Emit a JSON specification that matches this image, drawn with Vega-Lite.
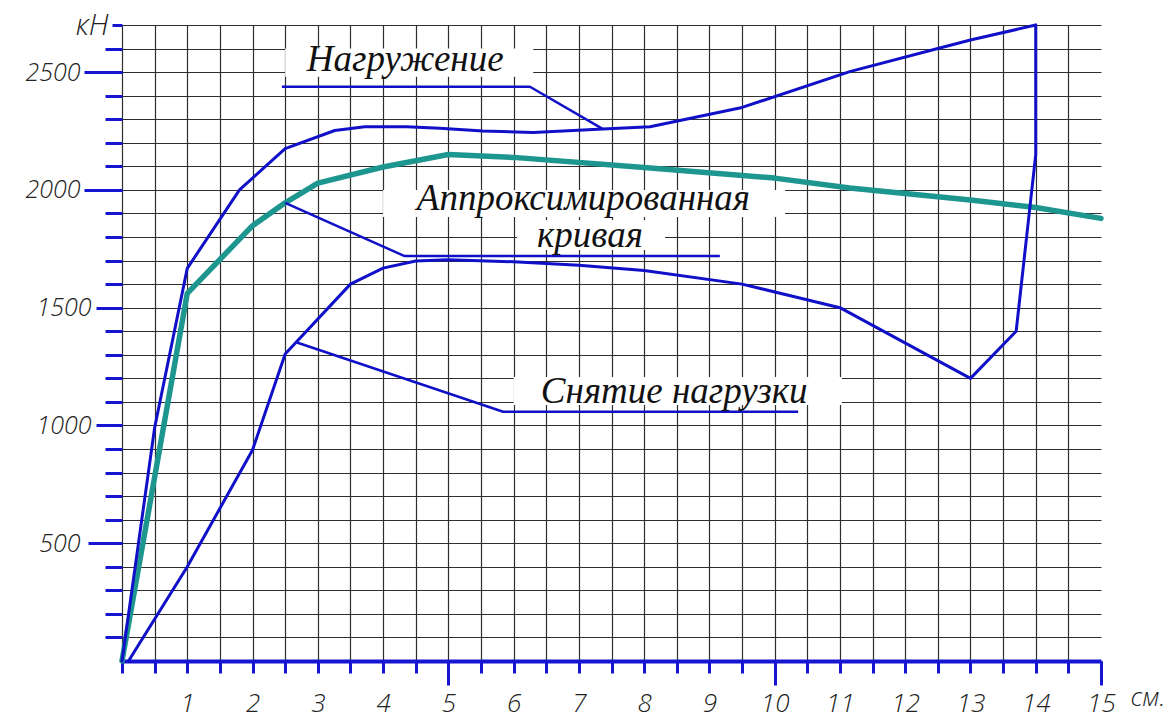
{
  "$schema": "https://vega.github.io/schema/vega-lite/v6.json",
  "width": 979,
  "height": 636,
  "autosize": {"type": "none"},
  "padding": {"left": 122, "top": 25, "right": 71, "bottom": 52},
  "background": "white",
  "config": {
    "view": {"stroke": null},
    "axis": {
      "labelFont": "Open Sans", "labelFontStyle": "italic", "labelFontWeight": 300,
      "labelFontSize": 25, "labelColor": "#222222",
      "labelOverlap": false, "labelFlush": false, "labelBound": false,
      "tickColor": "#1515d2", "tickWidth": 3, "title": null
    }
  },
  "datasets": {
    "boxes": [
      {"x": 2.5, "x2": 6.3, "y": 2480, "y2": 2600},
      {"x": 4.0, "x2": 10.16, "y": 1885, "y2": 2000},
      {"x": 6.05, "x2": 8.32, "y": 1745, "y2": 1872},
      {"x": 6.0, "x2": 11.03, "y": 1087, "y2": 1206}
    ],
    "approx": [
      {"i": 0, "x": 0, "y": 0},
      {"i": 1, "x": 1, "y": 1561},
      {"i": 2, "x": 2, "y": 1848},
      {"i": 3, "x": 2.5, "y": 1945},
      {"i": 4, "x": 3, "y": 2029},
      {"i": 5, "x": 4, "y": 2097},
      {"i": 6, "x": 5, "y": 2150},
      {"i": 7, "x": 6, "y": 2138},
      {"i": 8, "x": 8, "y": 2095},
      {"i": 9, "x": 10, "y": 2050},
      {"i": 10, "x": 11.15, "y": 2008},
      {"i": 11, "x": 13, "y": 1957},
      {"i": 12, "x": 14, "y": 1925},
      {"i": 13, "x": 15, "y": 1879}
    ],
    "curves": [
      {"series": "Нагружение", "i": 0, "x": 0, "y": 0},
      {"series": "Нагружение", "i": 1, "x": 0.5, "y": 990},
      {"series": "Нагружение", "i": 2, "x": 1, "y": 1667},
      {"series": "Нагружение", "i": 3, "x": 1.8, "y": 2000},
      {"series": "Нагружение", "i": 4, "x": 2.5, "y": 2175},
      {"series": "Нагружение", "i": 5, "x": 3.26, "y": 2252},
      {"series": "Нагружение", "i": 6, "x": 3.72, "y": 2268},
      {"series": "Нагружение", "i": 7, "x": 4.36, "y": 2268},
      {"series": "Нагружение", "i": 8, "x": 4.87, "y": 2262},
      {"series": "Нагружение", "i": 9, "x": 5.53, "y": 2250},
      {"series": "Нагружение", "i": 10, "x": 6.3, "y": 2244},
      {"series": "Нагружение", "i": 11, "x": 7.37, "y": 2258},
      {"series": "Нагружение", "i": 12, "x": 8.09, "y": 2268},
      {"series": "Нагружение", "i": 13, "x": 9.5, "y": 2350},
      {"series": "Нагружение", "i": 14, "x": 11.15, "y": 2502},
      {"series": "Нагружение", "i": 15, "x": 12.5, "y": 2600},
      {"series": "Нагружение", "i": 16, "x": 13, "y": 2636},
      {"series": "Нагружение", "i": 17, "x": 14, "y": 2700},
      {"series": "Снятие нагрузки", "i": 0, "x": 14, "y": 2700},
      {"series": "Снятие нагрузки", "i": 1, "x": 14, "y": 2150},
      {"series": "Снятие нагрузки", "i": 2, "x": 13.7, "y": 1400},
      {"series": "Снятие нагрузки", "i": 3, "x": 13, "y": 1200},
      {"series": "Снятие нагрузки", "i": 4, "x": 11, "y": 1500},
      {"series": "Снятие нагрузки", "i": 5, "x": 9.5, "y": 1600},
      {"series": "Снятие нагрузки", "i": 6, "x": 8, "y": 1658},
      {"series": "Снятие нагрузки", "i": 7, "x": 7, "y": 1680},
      {"series": "Снятие нагрузки", "i": 8, "x": 6, "y": 1695},
      {"series": "Снятие нагрузки", "i": 9, "x": 5, "y": 1703},
      {"series": "Снятие нагрузки", "i": 10, "x": 4.5, "y": 1698},
      {"series": "Снятие нагрузки", "i": 11, "x": 4, "y": 1668},
      {"series": "Снятие нагрузки", "i": 12, "x": 3.5, "y": 1600},
      {"series": "Снятие нагрузки", "i": 13, "x": 2.5, "y": 1303},
      {"series": "Снятие нагрузки", "i": 14, "x": 2, "y": 896},
      {"series": "Снятие нагрузки", "i": 15, "x": 1, "y": 400},
      {"series": "Снятие нагрузки", "i": 16, "x": 0.1, "y": 0}
    ],
    "leaders": [
      {"series": "l1", "i": 0, "x": 2.45, "y": 2438},
      {"series": "l1", "i": 1, "x": 6.25, "y": 2438},
      {"series": "l1", "i": 2, "x": 7.37, "y": 2258},
      {"series": "l2", "i": 0, "x": 2.5, "y": 1945},
      {"series": "l2", "i": 1, "x": 4.33, "y": 1719},
      {"series": "l2", "i": 2, "x": 9.16, "y": 1719},
      {"series": "l3", "i": 0, "x": 2.68, "y": 1352},
      {"series": "l3", "i": 1, "x": 5.84, "y": 1058},
      {"series": "l3", "i": 2, "x": 10.36, "y": 1058}
    ],
    "labels": [
      {"x": 4.34, "y": 2503, "text": "Нагружение"},
      {"x": 7.07, "y": 1915, "text": "Аппроксимированная"},
      {"x": 7.17, "y": 1757, "text": "кривая"},
      {"x": 8.46, "y": 1095, "text": "Снятие нагрузки"}
    ],
    "units": [
      {"x": 15.72, "y": -190, "text": "см."}
    ]
  },
  "resolve": {"axis": {"x": "independent", "y": "independent"}},
  "layer": [
    {
      "data": {"name": "boxes"},
      "mark": {"type": "rect", "fill": "white", "stroke": null},
      "encoding": {
        "x": {
          "field": "x", "type": "quantitative",
          "scale": {"domain": [0, 15], "nice": false, "zero": false},
          "axis": {
            "orient": "bottom",
            "values": [0, 0.5, 1, 1.5, 2, 2.5, 3, 3.5, 4, 4.5, 5, 5.5, 6, 6.5, 7, 7.5, 8, 8.5, 9, 9.5, 10, 10.5, 11, 11.5, 12, 12.5, 13, 13.5, 14, 14.5, 15],
            "domain": true, "domainColor": "#1515d2", "domainWidth": 4,
            "ticks": true, "tickSize": 12,
            "grid": true, "gridColor": "#2e2e2e", "gridWidth": 1.2,
            "gridOpacity": {"condition": {"test": "datum.value === 15", "value": 0}, "value": 1},
            "labelExpr": "datum.value % 1 === 0 && datum.value > 0 ? '' + datum.value : ''",
            "labelFontSize": 26,
            "labelPadding": 17
          }
        },
        "x2": {"field": "x2"},
        "y": {
          "field": "y", "type": "quantitative",
          "scale": {"domain": [0, 2700], "nice": false, "zero": false},
          "axis": {
            "orient": "left",
            "values": [100, 200, 300, 400, 500, 600, 700, 800, 900, 1000, 1100, 1200, 1300, 1400, 1500, 1600, 1700, 1800, 1900, 2000, 2100, 2200, 2300, 2400, 2500, 2600, 2700],
            "domain": false,
            "ticks": true, "tickSize": 17,
            "tickOpacity": {"condition": {"test": "datum.value === 2700", "value": 0}, "value": 1},
            "grid": true, "gridColor": "#2e2e2e", "gridWidth": 1.2,
            "labels": false
          }
        },
        "y2": {"field": "y2"}
      }
    },
    {
      "data": {"name": "approx"},
      "mark": {"type": "line", "color": "#1e9690", "strokeWidth": 5.5, "strokeJoin": "round", "strokeCap": "round"},
      "encoding": {
        "x": {
          "field": "x", "type": "quantitative",
          "axis": {
            "orient": "bottom",
            "values": [5, 10, 15],
            "domain": false, "grid": false, "labels": false,
            "ticks": true, "tickSize": 24
          }
        },
        "y": {
          "field": "y", "type": "quantitative",
          "axis": {
            "orient": "left", "values": [2000, 2500], "format": "d",
            "domain": false, "grid": false, "ticks": true, "tickSize": 38, "labelPadding": 4
          }
        },
        "order": {"field": "i", "type": "quantitative"}
      }
    },
    {
      "data": {"name": "curves"},
      "mark": {"type": "line", "color": "#1010c8", "strokeWidth": 3, "strokeJoin": "round", "strokeCap": "round"},
      "encoding": {
        "x": {"field": "x", "type": "quantitative", "axis": null},
        "y": {
          "field": "y", "type": "quantitative",
          "axis": {
            "orient": "left", "values": [1000, 1500], "format": "d",
            "domain": false, "grid": false, "ticks": true, "tickSize": 26, "labelPadding": 5
          }
        },
        "detail": {"field": "series", "type": "nominal"},
        "order": {"field": "i", "type": "quantitative"}
      }
    },
    {
      "data": {"name": "leaders"},
      "mark": {"type": "line", "color": "#1010c8", "strokeWidth": 2.5, "strokeJoin": "round"},
      "encoding": {
        "x": {"field": "x", "type": "quantitative", "axis": null},
        "y": {
          "field": "y", "type": "quantitative",
          "axis": {
            "orient": "left", "values": [500], "format": "d",
            "domain": false, "grid": false, "ticks": true, "tickSize": 34, "labelPadding": 8
          }
        },
        "detail": {"field": "series", "type": "nominal"},
        "order": {"field": "i", "type": "quantitative"}
      }
    },
    {
      "data": {"name": "labels"},
      "mark": {"type": "text", "font": "Liberation Serif", "fontStyle": "italic", "fontSize": 37, "color": "#111111", "align": "center", "baseline": "alphabetic"},
      "encoding": {
        "x": {"field": "x", "type": "quantitative", "axis": null},
        "y": {
          "field": "y", "type": "quantitative",
          "axis": {
            "orient": "left", "values": [2700],
            "labelExpr": "'кН'", "labelFontSize": 29,
            "domain": false, "grid": false, "ticks": true, "tickSize": 10, "labelPadding": 4
          }
        },
        "text": {"field": "text"}
      }
    },
    {
      "data": {"name": "units"},
      "mark": {"type": "text", "font": "Open Sans", "fontStyle": "italic", "fontWeight": 300, "fontSize": 26, "color": "#222222", "align": "center", "baseline": "alphabetic"},
      "encoding": {
        "x": {"field": "x", "type": "quantitative", "axis": null},
        "y": {"field": "y", "type": "quantitative", "axis": null},
        "text": {"field": "text"}
      }
    }
  ]
}
